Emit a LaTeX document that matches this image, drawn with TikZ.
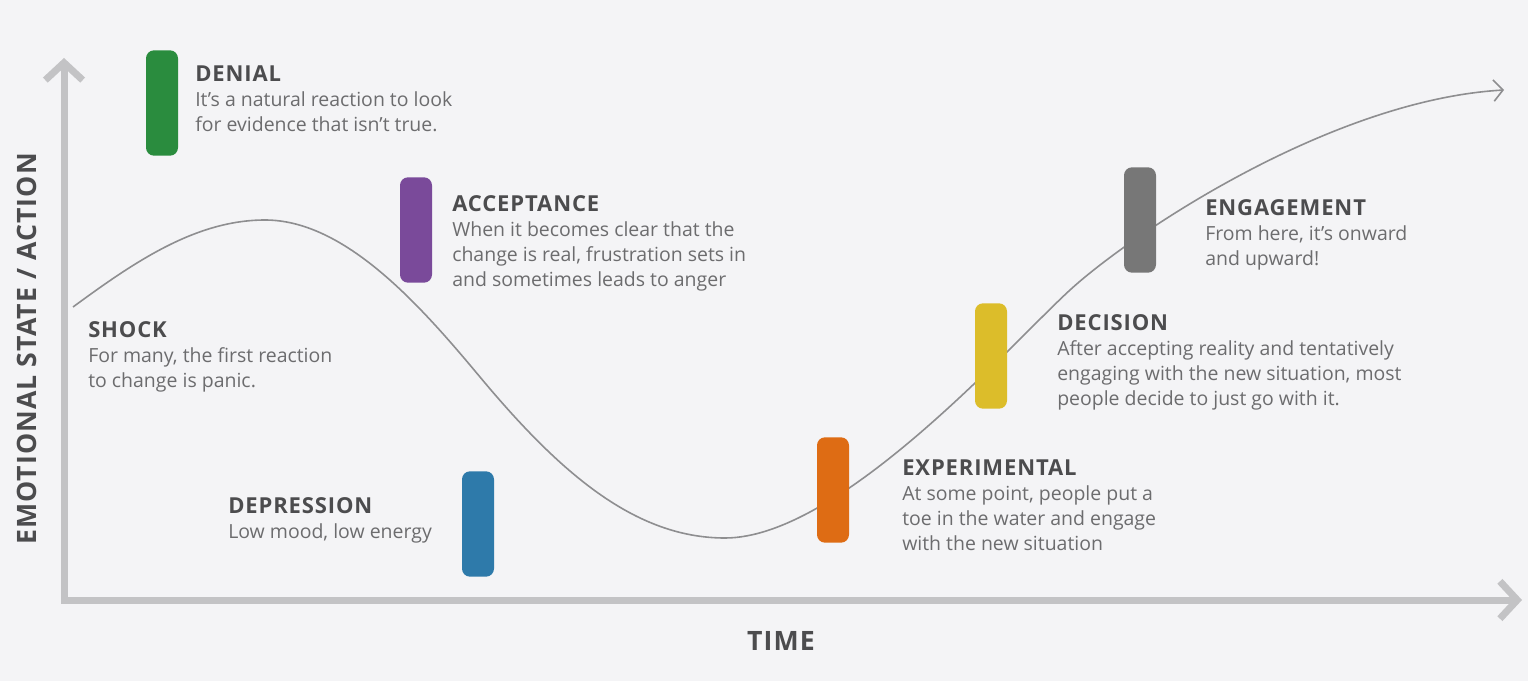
\documentclass[tikz,border=0pt]{standalone}
\usepackage{fontspec}
\setmainfont{Open Sans}
\newfontfamily\ttlfont[LetterSpace=4]{Open Sans}
\usetikzlibrary{arrows.meta}
\definecolor{bg}{HTML}{F4F4F6}
\definecolor{axisgray}{HTML}{C3C3C5}
\definecolor{curvegray}{HTML}{8E8E90}
\definecolor{titlegray}{HTML}{4C4C4E}
\definecolor{bodygray}{HTML}{6C6C6E}
\definecolor{cgreen}{HTML}{2A8C3E}
\definecolor{cpurple}{HTML}{7A4A9A}
\definecolor{cblue}{HTML}{2E7AAA}
\definecolor{corange}{HTML}{DE6C14}
\definecolor{cyellow}{HTML}{DCBD2A}
\definecolor{cgray}{HTML}{777777}
\newcommand{\stg}[2]{\vtop{\baselineskip=18.75pt\hbox{\color{titlegray}\ttlfont\fontsize{16.5pt}{18.75pt}\selectfont\bfseries #1}#2}}
\newcommand{\lline}[1]{\hbox{#1}}
\begin{document}
\begin{tikzpicture}[x=0.75pt,y=-0.75pt,
  lbl/.style={anchor=base west,inner sep=0pt,text=bodygray,font=\fontsize{14.6pt}{18.75pt}\selectfont},
  bar/.style={rounded corners=6pt,minimum width=24pt,minimum height=79pt,inner sep=0pt},
  axis/.style={draw=axisgray,line width=5.25pt,line join=miter,
    {Straight Barb[length=13pt,width=28pt,line cap=butt]}-{Straight Barb[length=13pt,width=28pt,line cap=butt]}},
  axlbl/.style={text=titlegray,inner sep=0pt,font=\ttlfont\fontsize{20pt}{22pt}\selectfont\bfseries},
  curve/.style={draw=curvegray,line width=1.2pt,-{Straight Barb[length=7pt,width=16pt]}}]
\fill[bg] (0,0) rectangle (1528,681);
\useasboundingbox (0,0) rectangle (1528,681);
% axes
\coordinate (ytip) at (64,58);
\coordinate (orig) at (64,600);
\coordinate (xtip) at (1522,600);
\draw[axis] (ytip) -- (orig) -- (xtip);
% curve
\coordinate (cstart) at (73,307);
\coordinate (cpeak) at (265,220);
\coordinate (cinf1) at (480,377);
\coordinate (cmin) at (725,538);
\coordinate (cinf2) at (1070,290);
\coordinate (cend) at (1504,90);
\draw[curve] (cstart) .. controls (133,263) and (195,220) .. (cpeak)
  .. controls (345,220) and (420,305) .. (cinf1)
  .. controls (560,473) and (635,538) .. (cmin)
  .. controls (840,538) and (1010,345) .. (cinf2)
  .. controls (1130,235) and (1330,100) .. (cend);
% bars
\node[bar,fill=cgreen] (bdenial) at (162,103) {};
\node[bar,fill=cpurple] (baccept) at (416,230) {};
\node[bar,fill=cblue] (bdepr) at (478,524) {};
\node[bar,fill=corange] (bexper) at (833,490) {};
\node[bar,fill=cyellow] (bdecis) at (991,356) {};
\node[bar,fill=cgray] (bengag) at (1140,220) {};
% labels
\node[lbl] (denial) at (195,82) {\stg{DENIAL}{\lline{It’s a natural reaction to look}\lline{for evidence that isn’t true.}}};
\node[lbl] (accept) at (452,212) {\stg{ACCEPTANCE}{\lline{When it becomes clear that the}\lline{change is real, frustration sets in}\lline{and sometimes leads to anger}}};
\node[lbl] (shock) at (88,337) {\stg{SHOCK}{\lline{For many, the first reaction}\lline{to change is panic.}}};
\node[lbl] (depr) at (228,513) {\stg{DEPRESSION}{\lline{Low mood, low energy}}};
\node[lbl] (exper) at (902,475) {\stg{EXPERIMENTAL}{\lline{At some point, people put a}\lline{toe in the water and engage}\lline{with the new situation}}};
\node[lbl] (decis) at (1057,330) {\stg{DECISION}{\lline{After accepting reality and tentatively}\lline{engaging with the new situation, most}\lline{people decide to just go with it.}}};
\node[lbl] (engag) at (1205,215) {\stg{ENGAGEMENT}{\lline{From here, it’s onward}\lline{and upward!}}};
% axis labels
\node[axlbl,rotate=90] (ylabel) at (27,349) {EMOTIONAL STATE / ACTION};
\node[axlbl] (xlabel) at (781,641) {TIME};
\end{tikzpicture}
\end{document}
